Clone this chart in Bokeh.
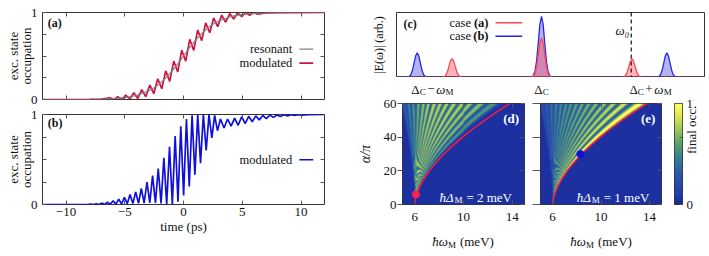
import numpy as np
from bokeh.plotting import figure
from bokeh.layouts import row, column, Spacer
from bokeh.models import Range1d, LinearAxis, FixedTicker, Label, Span, LinearColorMapper, Grid
from bokeh.embed import file_html
from bokeh.resources import INLINE

FONT = "Liberation Serif, serif"
FRAME = "#333333"
TICK = "#555555"

# ---------------- data ----------------
# (a) resonant excitation (smooth) and modulated excitation (extrema)
res_t = [-12, -8, -7, -6, -5, -4, -3, -2.5, -2, -1.5, -1, -0.5, 0, 0.5, 1, 1.5, 2, 2.5, 3, 4, 5, 6, 7, 8, 12]
res_y = [0, 0.001, 0.004, 0.01, 0.022, 0.048, 0.098, 0.136, 0.185, 0.248, 0.323, 0.408, 0.5, 0.592, 0.677,
         0.752, 0.815, 0.864, 0.902, 0.952, 0.978, 0.99, 0.996, 0.999, 1.0]

mod_a_t = [-12, -8, -7, -6.27, -5.93, -5.59, -5.25, -4.91, -4.57, -4.23, -3.89, -3.55, -3.21, -2.87, -2.53,
           -2.19, -1.85, -1.51, -1.17, -0.83, -0.49, -0.15, 0.19, 0.53, 0.87, 1.21, 1.55, 1.89, 2.23, 2.57,
           2.91, 3.25, 3.59, 3.93, 4.27, 4.61, 4.95, 5.29, 5.63, 5.97, 6.31, 7, 8, 12]
mod_a_y = [0, 0.001, 0.004, 0.020, 0.0, 0.032, 0.0, 0.050, 0.003, 0.077, 0.012, 0.114, 0.031, 0.167, 0.067,
           0.238, 0.124, 0.329, 0.208, 0.442, 0.317, 0.567, 0.440, 0.691, 0.565, 0.798, 0.676, 0.880, 0.767, 0.936,
           0.836, 0.970, 0.888, 0.988, 0.925, 0.997, 0.951, 1.0, 0.969, 1.0, 0.981, 0.995, 0.999, 1.0]

# (b) modulated excitation, strong modulation (extrema)
mod_b_t = [-12, -8.2, -7.91, -7.67, -7.43, -7.19, -6.95, -6.71, -6.47, -6.23, -5.99, -5.75, -5.51, -5.27, -5.03,
           -4.79, -4.55, -4.31, -4.07, -3.83, -3.59, -3.35, -3.11, -2.87, -2.63, -2.39, -2.15, -1.91, -1.67, -1.43,
           -1.19, -0.95, -0.71, -0.47, -0.23, 0.01, 0.25, 0.49, 0.73, 0.97, 1.21, 1.45, 1.69, 1.93, 2.17, 2.41,
           2.65, 2.89, 3.15, 3.45, 3.75, 4.05, 4.35, 4.65, 4.95, 5.25, 5.55, 5.85, 6.15, 6.45, 6.75, 7.05, 7.35,
           7.65, 7.95, 8.25, 8.55, 8.85, 9.15, 9.45, 9.75, 10.05, 10.6, 12]
mod_b_y = [0, 0.0, 0.004, 0.0, 0.008, 0.0, 0.015, 0.001, 0.025, 0.002, 0.04, 0.004, 0.06, 0.006, 0.08,
           0.008, 0.11, 0.01, 0.14, 0.012, 0.18, 0.015, 0.25, 0.018, 0.32, 0.018, 0.40, 0.012, 0.52, 0.002,
           0.64, 0.0, 0.76, 0.03, 0.87, 0.10, 0.95, 0.20, 0.99, 0.33, 1.0, 0.46, 1.0, 0.60, 1.0, 0.74,
           0.99, 0.82, 0.95, 0.85, 0.95, 0.87, 0.96, 0.88, 0.975, 0.90, 0.98, 0.92, 0.985, 0.94, 0.99, 0.955, 0.993,
           0.968, 0.995, 0.978, 0.997, 0.985, 0.998, 0.99, 0.999, 0.994, 0.999, 1.0]

# (c) spectra: peak positions (units of omega_M) and heights
case_a_pos = [-0.82, 0.0, 0.83]
case_a_height = [0.29, 0.61, 0.29]
case_b_pos = [-1.14, 0.0, 1.15]
case_b_height = [0.38, 0.94, 0.38]
peak_offset = [-0.10, -0.08, -0.06, -0.045, -0.03, -0.015, 0.0, 0.015, 0.03, 0.045, 0.06, 0.08, 0.10]
peak_shape = [0.0, 0.02, 0.10, 0.27, 0.56, 0.87, 1.0, 0.87, 0.56, 0.27, 0.10, 0.02, 0.0]
omega0 = 0.823
c_ticks = [-1.0, 0.0, 1.0]

# (d),(e) resonance curve and stripe positions (omega at alpha/pi = 60)
red_alpha = [0, 2, 5, 10, 15, 20, 25, 30, 35, 40, 45, 50, 55, 60]
red_omega = [6.0, 6.02, 6.11, 6.37, 6.74, 7.2, 7.76, 8.4, 9.12, 9.92, 10.79, 11.72, 12.73, 13.8]
d_tops = [5.1, 5.47, 5.87, 6.27, 6.68, 7.08, 7.56, 8.05, 8.58, 9.18, 9.85, 10.57, 11.44, 12.45]
d_int = [0.3, 0.45, 0.55, 0.65, 0.72, 0.78, 0.8, 0.8, 0.8, 0.8, 0.78, 0.75, 0.7, 0.55]
e_tops = [5.1, 5.45, 5.86, 6.27, 6.68, 7.09, 7.49, 7.96, 8.45, 8.99, 9.59, 10.27, 11.03, 11.93, 13.2]
e_int = [0.2, 0.3, 0.38, 0.45, 0.5, 0.55, 0.58, 0.6, 0.63, 0.66, 0.7, 0.74, 0.8, 0.88, 1.0]
dot_d = ([6.1], [6.0])
dot_e = ([8.29], [30.0])

t_ticks = [-10, -5, 0, 5, 10]
om_ticks = [6, 10, 14]
al_ticks = [0, 20, 40, 60]

# ---------------- helpers ----------------
W_EM = {'Δ': 0.612, 'C': 0.667, 'M': 0.889, '−': 0.564, '+': 0.564, 'ω': 0.69, 'ħ': 0.5, ' ': 0.25,
        '(': 0.333, ')': 0.333, 'm': 0.778, 'e': 0.444, 'V': 0.722, '=': 0.564, '1': 0.5, '2': 0.5}


def tw(s, size):
    return sum(W_EM.get(ch, 0.5) for ch in s) * size


def make_fig(w, h, xr, yr, ml, mr, mt, mb, xloc="below", yloc="left", outline=True):
    p = figure(width=w, height=h, x_range=Range1d(*xr), y_range=Range1d(*yr),
               output_backend="svg", toolbar_location=None,
               x_axis_location=xloc, y_axis_location=yloc)
    p.min_border_left = ml
    p.min_border_right = mr
    p.min_border_top = mt
    p.min_border_bottom = mb
    for r in p.center:
        if isinstance(r, Grid):
            r.visible = False
    p.outline_line_color = FRAME if outline else None
    p.outline_line_width = 1
    p.background_fill_color = "white"
    p.border_fill_color = "white"
    return p


def style_axis(ax, ticks, overrides=None, tick_in=4, tick_out=0, labels=True, standoff=5, size="13px"):
    ax.ticker = FixedTicker(ticks=ticks)
    ax.axis_line_color = None
    ax.major_tick_line_color = TICK
    ax.major_tick_in = tick_in
    ax.major_tick_out = tick_out
    ax.minor_tick_line_color = None
    ax.minor_tick_in = 0
    ax.minor_tick_out = 0
    ax.major_label_text_font = FONT
    if labels:
        ax.major_label_text_color = "#111111"
        ax.major_label_text_font_size = size
        ax.major_label_standoff = standoff
        if overrides:
            ax.major_label_overrides = overrides
    else:
        ax.major_label_text_color = None
        ax.major_label_text_font_size = "0px"
        ax.major_label_standoff = 0
    ax.axis_label_text_font = FONT
    ax.axis_label_text_font_style = "normal"
    ax.axis_label_text_font_size = "13px"
    ax.axis_label_text_color = "#111111"


def mirror(p, xt, yt, tick_in=4):
    a = LinearAxis()
    style_axis(a, xt, tick_in=tick_in, labels=False)
    p.add_layout(a, "above")
    r = LinearAxis()
    style_axis(r, yt, tick_in=tick_in, labels=False)
    p.add_layout(r, "right")


def lab(p, x, y, text, size="13px", style="normal", color="#111111", align="left", baseline="middle",
        xo=0, yo=0, angle=0):
    p.add_layout(Label(x=x, y=y, text=text, text_font=FONT, text_font_size=size, text_font_style=style,
                       text_color=color, text_align=align, text_baseline=baseline,
                       x_offset=xo, y_offset=yo, angle=angle))


def composite(p, x, y, segs, color="#111111"):
    total = sum(tw(t, sz) + gap for (t, sz, st, dy, gap) in segs)
    off = -total / 2.0
    for t, sz, st, dy, gap in segs:
        off += gap
        lab(p, x, y, t, size=f"{sz}px", style=st, color=color, align="left", baseline="alphabetic",
            xo=off, yo=dy)
        off += tw(t, sz)


def strip(w, h, xr, ml, mr):
    return make_fig(w, h, xr, (0, 1), ml, mr, 0, 0, xloc=None, yloc=None, outline=False)


# ---------------- panel (a) ----------------
fa = make_fig(354, 106, (-12, 12), (0, 1), 42, 30, 12, 7)
style_axis(fa.xaxis[0], t_ticks, labels=False)
style_axis(fa.yaxis[0], [0, 0.25, 0.5, 0.75, 1], overrides={0: "0", 0.25: "", 0.5: "", 0.75: "", 1: "1"},
           standoff=5)
fa.yaxis[0].axis_label = "exc. state\noccupation"
fa.yaxis[0].axis_label_standoff = -6
fa.yaxis[0].axis_label_text_line_height = 0.9
mirror(fa, t_ticks, [0.25, 0.5, 0.75])
fa.line(mod_a_t, mod_a_y, line_color="#d01040", line_width=1.7)
fa.line(res_t, res_y, line_color="#808080", line_width=1.2)
lab(fa, -11.55, 0.883, "(a)", size="12px", style="bold")
lab(fa, 9.26, 0.578, "resonant", size="12.5px", align="right")
lab(fa, 9.26, 0.417, "modulated", size="12.5px", align="right")
fa.line([9.86, 11.04], [0.578, 0.578], line_color="#808080", line_width=1.2)
fa.line([9.86, 11.04], [0.417, 0.417], line_color="#d01040", line_width=1.7)

# ---------------- panel (b) ----------------
fb = make_fig(354, 144, (-12, 12), (0, 1), 42, 30, 8, 46)
style_axis(fb.xaxis[0], t_ticks, overrides={-10: "−10", -5: "−5", 0: "0", 5: "5", 10: "10"}, standoff=3)
fb.xaxis[0].axis_label = "time (ps)"
fb.xaxis[0].axis_label_standoff = 0
style_axis(fb.yaxis[0], [0, 0.25, 0.5, 0.75, 1], overrides={0: "0", 0.25: "", 0.5: "", 0.75: "", 1: "1"},
           standoff=5)
fb.yaxis[0].axis_label = "exc. state\noccupation"
fb.yaxis[0].axis_label_standoff = -6
fb.yaxis[0].axis_label_text_line_height = 0.9
mirror(fb, t_ticks, [0.25, 0.5, 0.75])
fb.line(mod_b_t, mod_b_y, line_color="#1010dd", line_width=1.7)
lab(fb, -11.55, 0.906, "(b)", size="12px", style="bold")
lab(fb, 9.26, 0.497, "modulated", size="12.5px", align="right")
fb.line([9.86, 11.04], [0.497, 0.497], line_color="#1010dd", line_width=1.7)

# ---------------- panel (c) ----------------
C_XR = (-1.33, 1.495)
fc = make_fig(355, 77, C_XR, (0, 1), 42, 5, 12, 0, xloc=None)
style_axis(fc.yaxis[0], [], labels=False)
fc.yaxis[0].axis_label = "|E(ω)| (arb.)"
fc.yaxis[0].axis_label_text_font_size = "12px"
fc.yaxis[0].axis_label_standoff = 11


def spectrum(pos, heights):
    xs = [C_XR[0]]
    ys = [0.0]
    for c, h in zip(pos, heights):
        for o, s in zip(peak_offset, peak_shape):
            xs.append(c + o)
            ys.append(h * s)
    xs.append(C_XR[1])
    ys.append(0.0)
    return xs, ys


bx, by = spectrum(case_b_pos, case_b_height)
ax_, ay_ = spectrum(case_a_pos, case_a_height)
fc.varea(x=bx, y1=0, y2=by, fill_color="#3a3ae0", fill_alpha=0.38)
fc.varea(x=ax_, y1=0, y2=ay_, fill_color="#ff4a5a", fill_alpha=0.42)
fc.line(bx, by, line_color="#2828e0", line_width=1.3)
fc.line(ax_, ay_, line_color="#ff4a55", line_width=1.3)
fc.add_layout(Span(location=omega0, dimension="height", line_color="#111111", line_width=1.2,
                   line_dash="4 3"))
lab(fc, omega0, 0.73, "ω₀", size="13px", style="italic", align="right", baseline="alphabetic", xo=-2)
lab(fc, -1.266, 0.83, "(c)", size="12px", style="bold")
lab(fc, -0.486, 0.842, "(a)", size="12.5px", style="bold", align="right")
lab(fc, -0.486, 0.842, "case", size="12.5px", align="right", xo=-17.5)
lab(fc, -0.486, 0.635, "(b)", size="12.5px", style="bold", align="right")
lab(fc, -0.486, 0.635, "case", size="12.5px", align="right", xo=-17.5)
fc.line([-0.422, -0.177], [0.842, 0.842], line_color="#ff4a55", line_width=1.3)
fc.line([-0.422, -0.177], [0.635, 0.635], line_color="#2828e0", line_width=1.3)

# tick-label strip under (c)
sc = strip(355, 19, C_XR, 42, 5)
CY = 0.37
composite(sc, c_ticks[0], CY, [("Δ", 13, "normal", 0, 0), ("C", 9, "normal", -3, 0.5),
                               ("−", 13, "normal", 0, 1.5), ("ω", 13, "italic", 0, 1.5),
                               ("M", 9, "normal", -3, 0.5)])
composite(sc, c_ticks[1], CY, [("Δ", 13, "normal", 0, 0), ("C", 9, "normal", -3, 0.5)])
composite(sc, c_ticks[2], CY, [("Δ", 13, "normal", 0, 0), ("C", 9, "normal", -3, 0.5),
                               ("+", 13, "normal", 0, 1.5), ("ω", 13, "italic", 0, 1.5),
                               ("M", 9, "normal", -3, 0.5)])

# ---------------- heatmaps (d), (e) ----------------
anchors = [(0.0, (24, 40, 150)), (0.1, (34, 62, 172)), (0.3, (42, 88, 168)), (0.45, (50, 125, 150)),
           (0.6, (90, 160, 110)), (0.75, (160, 200, 90)), (0.9, (230, 235, 80)), (1.0, (255, 255, 95))]
pal = []
for i in range(256):
    v = i / 255.0
    for (v0, c0), (v1, c1) in zip(anchors[:-1], anchors[1:]):
        if v0 <= v <= v1:
            f = (v - v0) / (v1 - v0)
            c = [int(round(a + (b - a) * f)) for a, b in zip(c0, c1)]
            pal.append("#%02x%02x%02x" % tuple(c))
            break
mapper = LinearColorMapper(palette=pal, low=0, high=1)


def stripe_image(tops, ints, nx, ny):
    om = np.linspace(5, 15, nx)
    al = np.linspace(0, 60, ny)
    OM, AL = np.meshgrid(om, al)
    top_red = red_omega[-1]
    g = (np.interp(AL, red_alpha, red_omega) - 6.0) / (top_red - 6.0)
    g = np.maximum(g, 1e-3)
    u = 6.0 + (OM - 6.0) / g
    tops = np.array(tops, dtype=float)
    ints = np.array(ints, dtype=float)
    sp = np.diff(tops)
    sp = np.concatenate([[sp[0]], sp])
    sig = 0.32 * sp
    Z = np.zeros_like(OM)
    for t0, I, s in zip(tops, ints, sig):
        Z = np.maximum(Z, I * np.exp(-0.5 * ((u - t0) / s) ** 2))
    Z = Z / (1.0 + np.exp((u - (top_red - 0.05)) / 0.04))
    return np.clip(Z + 0.04, 0, 1)


def heat_fig(w, ml, mr, tops, ints, dot, dot_color, panel, delta_text, left_labels):
    p = make_fig(w, 134, (5, 15), (0, 60), ml, mr, 7, 26)
    nx = w - ml - mr
    p.image(image=[stripe_image(tops, ints, nx, 101)], x=5, y=0, dw=10, dh=60, color_mapper=mapper)
    p.line(red_omega, red_alpha, line_color="#ff1a3c", line_width=1.5)
    p.scatter(dot[0], dot[1], size=7, color=dot_color)
    style_axis(p.xaxis[0], om_ticks, overrides={6: "6", 10: "10", 14: "14"}, standoff=8)
    if left_labels:
        style_axis(p.yaxis[0], al_ticks, overrides={0: "0", 20: "20", 40: "40", 60: "60"}, tick_in=0,
                   tick_out=5, standoff=1)
        p.yaxis[0].axis_label = "α/π"
        p.yaxis[0].axis_label_text_font_style = "italic"
        p.yaxis[0].axis_label_text_font_size = "14px"
        p.yaxis[0].axis_label_standoff = 8
    else:
        style_axis(p.yaxis[0], al_ticks, tick_in=0, tick_out=8, labels=False)
    mirror(p, om_ticks, al_ticks)
    lab(p, 13.9, 50.9, panel, size="13px", style="bold", color="white", align="center")
    composite(p, 11.0, 4.2, [("ħΔ", 13, "italic", 0, 0), ("M", 9, "normal", -3, 0.5),
                             ("= " + delta_text + " meV", 13, "normal", 0, 4.0)], color="white")
    s = strip(w, 20, (5, 15), ml, mr)
    composite(s, 10.0, 0.45, [("ħω", 13, "italic", 0, 0), ("M", 9, "normal", -3, 0.5),
                              ("(meV)", 13, "normal", 0, 3.8)])
    return p, s


fd, sd = heat_fig(175, 47, 5, d_tops, d_int, dot_d, "#ff2050", "(d)", "2", True)
fe, se = heat_fig(140, 11, 8, e_tops, e_int, dot_e, "#1010e0", "(e)", "1", False)

# ---------------- colour bar ----------------
fcb = make_fig(40, 134, (0, 1), (0, 1), 5, 27, 7, 26, xloc=None, yloc="right")
grad = np.linspace(0, 1, 256).reshape(256, 1)
fcb.image(image=[grad], x=0, y=0, dw=1, dh=1, color_mapper=mapper)
style_axis(fcb.yaxis[0], [0, 1 / 3, 2 / 3, 1], overrides={0: "0", 1 / 3: "", 2 / 3: "", 1: "1"},
           tick_in=3, standoff=4)
cb_ax = fcb.yaxis[0]
cb_ax.axis_label = "final occ."
cb_ax.axis_label_standoff = -5
if "axis_label_orientation" in cb_ax.properties():
    cb_ax.axis_label_orientation = np.pi / 2

layout = row(column(fa, fb), column(fc, sc, row(fd, fe, fcb), row(sd, se, Spacer(width=40, height=20))))
open("out.html", "w").write(file_html(layout, INLINE))
